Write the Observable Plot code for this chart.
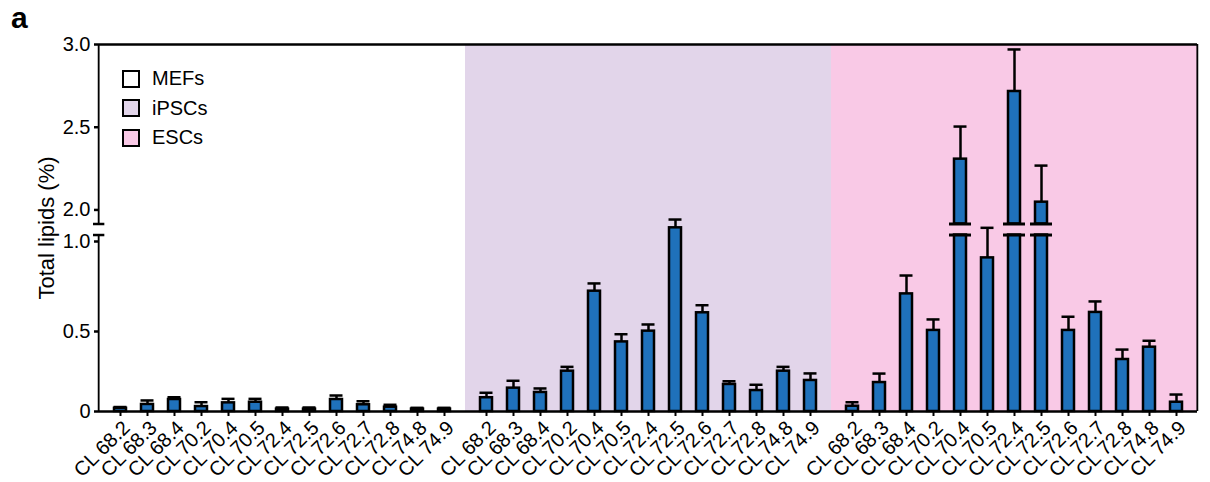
<!DOCTYPE html>
<html>
<head>
<meta charset="utf-8">
<script src="https://cdn.jsdelivr.net/npm/d3@7"></script>
<script src="https://cdn.jsdelivr.net/npm/@observablehq/plot@0.6"></script>
<style>
  html, body { margin: 0; padding: 0; background: #fff; }
  #wrap { position: relative; width: 1210px; height: 482px; font-family: "Liberation Sans", Arial, sans-serif; }
  #panel { position: absolute; left: 11px; top: 3px; font-size: 30px; font-weight: bold; line-height: 1; }
  #legend { position: absolute; left: 122px; top: 64px; font-size: 20px; }
  .row { display: flex; align-items: center; height: 29.5px; }
  .sw { width: 18px; height: 18px; box-sizing: border-box; border: 2.5px solid #000; margin-right: 12px; }
</style>
</head>
<body>
<div id="wrap">
  <div id="chart"></div>
  <div id="panel">a</div>
  <div id="legend"></div>
</div>
<script>
// ---- data ----
const groups = ["MEFs", "iPSCs", "ESCs"];
const lipids = ["CL 68.2","CL 68.3","CL 68.4","CL 70.2","CL 70.4","CL 70.5","CL 72.4","CL 72.5","CL 72.6","CL 72.7","CL 72.8","CL 74.8","CL 74.9"];
const mefMean  = [0.020,0.044,0.075,0.031,0.054,0.058,0.015,0.015,0.075,0.042,0.027,0.015,0.015];
const mefErr   = [0.008,0.025,0.014,0.027,0.025,0.021,0.010,0.010,0.025,0.022,0.015,0.008,0.008];
const ipscMean = [0.086,0.146,0.119,0.252,0.724,0.435,0.502,1.076,0.604,0.169,0.131,0.252,0.194];
const ipscErr  = [0.031,0.046,0.025,0.027,0.043,0.048,0.037,0.046,0.042,0.020,0.036,0.027,0.044];
const escMean  = [0.033,0.181,0.709,0.506,2.307,0.909,2.716,2.047,0.506,0.606,0.325,0.402,0.058];
const escErr   = [0.025,0.056,0.102,0.061,0.197,0.167,0.254,0.221,0.076,0.061,0.062,0.040,0.048];
const yTicks = [0, 0.5, 1.0, 2.0, 2.5, 3.0];
const yTickLabels = ["0", "0.5", "1.0", "2.0", "2.5", "3.0"];

// ---- style / layout ----
const bgColors = ["#ffffff", "#e2d5ea", "#f9c9e6"];
const barColor = "#1f71bb";
const W = 1210, H = 482, mL = 98, mR = 12, mT = 44, mB = 71;
const innerH = H - mT - mB;
const lowerBreak = 1.036, upperStart = 1.915;
// broken y axis: piecewise-linear transform into pixel height (lower segment 0–1, upper segment ~1.9–3)
const breakScale = d3.scaleLinear()
  .domain([0, 0.5, 1.0, 1.2, upperStart, 3.0])
  .range([0, 80, 170, 206, 187.5, innerH]);
const facetW = (W - mL - mR) / groups.length;
const tickPos = yTicks.map(breakScale);
const tickLabel = new Map(tickPos.map((p, i) => [p, yTickLabels[i]]));

const means = [mefMean, ipscMean, escMean];
const errs = [mefErr, ipscErr, escErr];
const data = groups.flatMap((g, gi) => lipids.map((l, i) => ({group: g, lipid: l, mean: means[gi][i], err: errs[gi][i]})));
const broken = data.filter(d => d.mean > upperStart);
const breakMarks = broken.flatMap(d => [{...d, y: lowerBreak}, {...d, y: upperStart}]);
const first = () => groups[0];
const last = () => groups[groups.length - 1];

const plot = Plot.plot({
  width: W, height: H,
  marginLeft: mL, marginRight: mR, marginTop: mT, marginBottom: mB,
  style: {fontFamily: "'Liberation Sans', Arial, sans-serif", fontSize: "20px", color: "#000", background: "transparent"},
  fx: {domain: groups, padding: 0, axis: null, label: null},
  x: {domain: lipids, paddingInner: 0.567, paddingOuter: 0.4, label: null},
  y: {domain: [0, innerH], transform: breakScale, label: null},
  color: {type: "ordinal", domain: groups, range: bgColors},
  marks: [
    Plot.rect(groups, {fx: d => d, fill: d => d}),
    Plot.ruleX(data, {fx: "group", x: "lipid", y1: "mean", y2: d => d.mean + d.err, stroke: "#000", strokeWidth: 2.5}),
    Plot.tickY(data, {fx: "group", x: "lipid", y: d => d.mean + d.err, stroke: "#000", strokeWidth: 2.5, insetLeft: -0.5, insetRight: -0.5}),
    Plot.barY(data, {fx: "group", x: "lipid", y1: 0, y2: d => d.mean > upperStart ? lowerBreak : d.mean, fill: barColor, stroke: "#000", strokeWidth: 2.5}),
    Plot.barY(broken, {fx: "group", x: "lipid", y1: upperStart, y2: "mean", fill: barColor, stroke: "#000", strokeWidth: 2.5}),
    Plot.tickY(breakMarks, {fx: "group", x: "lipid", y: "y", stroke: "#000", strokeWidth: 3, insetLeft: -5, insetRight: -5}),
    // frame: top line, bottom axis line
    Plot.ruleY([3.0], {stroke: "#000", strokeWidth: 2.5}),
    Plot.ruleY([0], {stroke: "#000", strokeWidth: 2.5}),
    // right border
    Plot.rect([0], {fx: last, insetLeft: facetW - 1.25, insetRight: -1.25, fill: "#000"}),
    // left axis line with break
    Plot.rect([[0, lowerBreak], [upperStart, 3.0]], {fx: first, y1: d => d[0], y2: d => d[1], insetLeft: -1.25, insetRight: facetW - 1.25, fill: "#000"}),
    Plot.ruleY([lowerBreak, upperStart], {fx: first, insetLeft: -6, insetRight: facetW - 6, stroke: "#000", strokeWidth: 2.5}),
    // y axis (tick positions pass through the same break transform)
    Plot.axisY({ticks: tickPos, tickFormat: p => tickLabel.get(p), tickSize: 5, tickPadding: 4, strokeWidth: 2.5, label: null, fontSize: 20}),
    // x axis: ticks and rotated labels
    Plot.axisX({tickSize: 5, strokeWidth: 2, fill: "none", label: null}),
    Plot.axisX({tickRotate: -45, tickSize: 5, tickPadding: 3, stroke: "none", dx: 6, dy: 5, label: null, fontSize: 20}),
    Plot.text(["Total lipids (%)"], {fx: first, frameAnchor: "left", textAnchor: "middle", dx: -53, rotate: -90, fontSize: 22})
  ]
});
document.getElementById("chart").appendChild(plot);

// legend
const legend = document.getElementById("legend");
groups.forEach((g, i) => {
  const row = document.createElement("div");
  row.className = "row";
  const sw = document.createElement("span");
  sw.className = "sw";
  sw.style.background = bgColors[i];
  row.appendChild(sw);
  row.appendChild(document.createTextNode(g));
  legend.appendChild(row);
});
</script>
</body>
</html>
